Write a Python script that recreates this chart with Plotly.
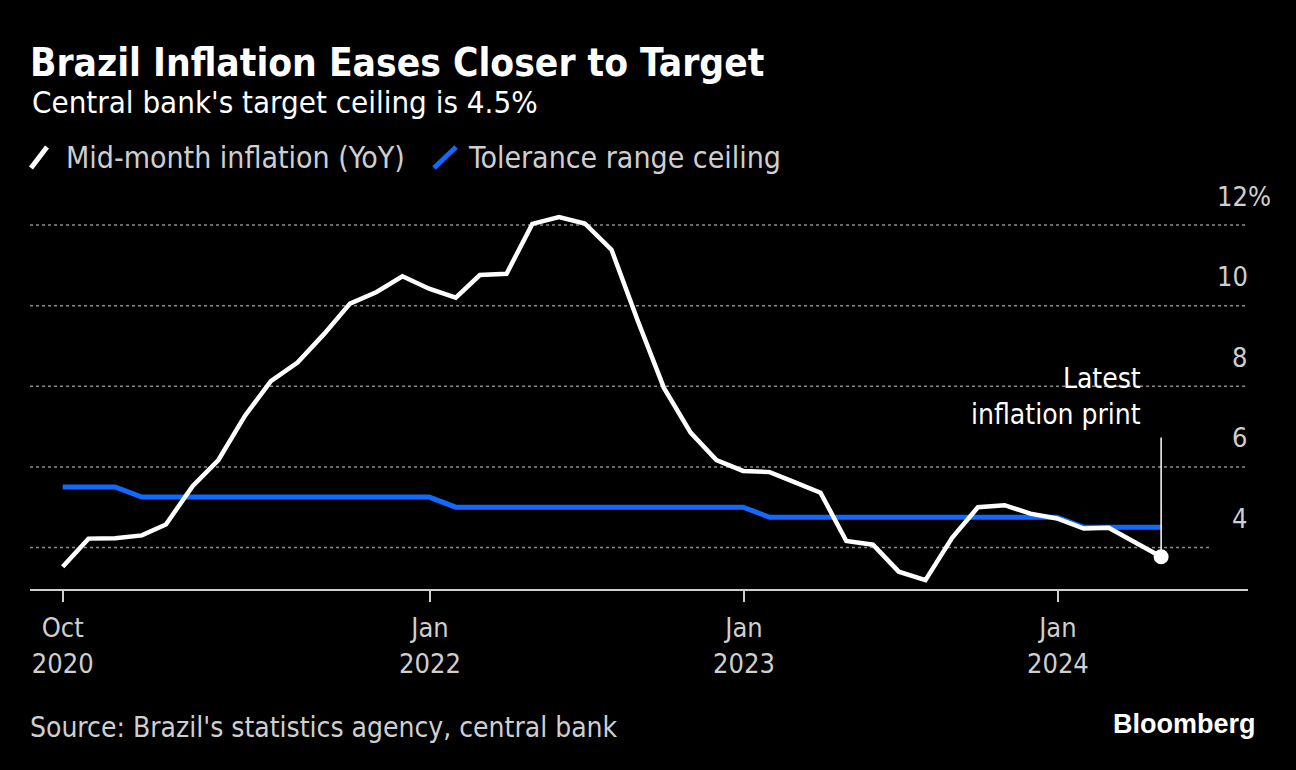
import pandas as pd
import plotly.graph_objects as go

# ---- data ----
months = ["2020-10", "2020-11", "2020-12",
          "2021-01", "2021-02", "2021-03", "2021-04", "2021-05", "2021-06",
          "2021-07", "2021-08", "2021-09", "2021-10", "2021-11", "2021-12",
          "2022-01", "2022-02", "2022-03", "2022-04", "2022-05", "2022-06",
          "2022-07", "2022-08", "2022-09", "2022-10", "2022-11", "2022-12",
          "2023-01", "2023-02", "2023-03", "2023-04", "2023-05", "2023-06",
          "2023-07", "2023-08", "2023-09", "2023-10", "2023-11", "2023-12",
          "2024-01", "2024-02", "2024-03", "2024-04"]
inflation = [3.52, 4.22, 4.23,
             4.30, 4.57, 5.52, 6.17, 7.27, 8.13,
             8.59, 9.30, 10.05, 10.34, 10.73, 10.42,
             10.20, 10.76, 10.79, 12.03, 12.20, 12.04,
             11.39, 9.60, 7.96, 6.85, 6.17, 5.90,
             5.87, 5.63, 5.36, 4.16, 4.07, 3.40,
             3.19, 4.24, 5.00, 5.05, 4.84, 4.72,
             4.47, 4.49, 4.14, 3.77]
ceiling = [5.5, 5.5, 5.5,
           5.25, 5.25, 5.25, 5.25, 5.25, 5.25,
           5.25, 5.25, 5.25, 5.25, 5.25, 5.25,
           5.0, 5.0, 5.0, 5.0, 5.0, 5.0,
           5.0, 5.0, 5.0, 5.0, 5.0, 5.0,
           4.75, 4.75, 4.75, 4.75, 4.75, 4.75,
           4.75, 4.75, 4.75, 4.75, 4.75, 4.75,
           4.5, 4.5, 4.5, 4.5]
x_tick_dates = ["2020-10-31", "2022-01-01", "2023-01-01", "2024-01-01"]
x_tick_text = ["Oct<br>2020", "Jan<br>2022", "Jan<br>2023", "Jan<br>2024"]
y_tick_vals = [4, 6, 8, 10, 12]
y_tick_text = ["4", "6", "8", "10", "12%"]

dates = pd.to_datetime(months) + pd.offsets.MonthEnd(0)

# ---- layout geometry ----
W, H = 1296, 770
L, R, T, B = 30, 48, 190, 181
PW, PH = W - L - R, H - T - B


def px(xp, yp):
    return (xp - L) / PW, (H - B - yp) / PH


FONT = "DejaVu Sans Condensed, Liberation Sans Narrow, sans-serif"
GREY = "#cfcfcf"
BLUE = "#1169ff"

fig = go.Figure()
fig.add_trace(go.Scatter(x=dates, y=ceiling, mode="lines",
                         line=dict(color=BLUE, width=5), name="Tolerance range ceiling",
                         showlegend=False, hoverinfo="skip"))
fig.add_trace(go.Scatter(x=dates, y=inflation, mode="lines",
                         line=dict(color="white", width=4.5), name="Mid-month inflation (YoY)",
                         showlegend=False, hoverinfo="skip"))
fig.add_trace(go.Scatter(x=[dates[-1]], y=[inflation[-1]], mode="markers",
                         marker=dict(color="white", size=15), showlegend=False,
                         hoverinfo="skip"))

shapes = []
# gridlines
for v in y_tick_vals:
    x1 = px(1210, 0)[0] if v == 4 else 1
    shapes.append(dict(type="line", xref="paper", yref="y", x0=0, x1=x1, y0=v, y1=v,
                       line=dict(color="#8a8a8a", width=1.5, dash="3px,3px"), layer="below"))
# annotation pointer line
shapes.append(dict(type="line", xref="x", yref="y", x0=dates[-1], x1=dates[-1],
                   y0=inflation[-1], y1=6.73, line=dict(color="white", width=1.5)))
# legend slashes
for (xa, xb, col) in [(31, 47, "white"), (434, 456, BLUE)]:
    a = px(xa, 168)
    b = px(xb, 147)
    shapes.append(dict(type="line", xref="paper", yref="paper", x0=a[0], y0=a[1],
                       x1=b[0], y1=b[1], line=dict(color=col, width=5)))

annotations = []
for v, t in zip(y_tick_vals, y_tick_text):
    txt = t if t.endswith("%") else t + '<span style="color:rgba(0,0,0,0)">%</span>'
    annotations.append(dict(xref="paper", yref="y", x=px(1273, 0)[0], y=v, text=txt,
                            xanchor="right", yanchor="middle", yshift=29, showarrow=False,
                            font=dict(family=FONT, size=27, color=GREY)))

annotations.append(dict(xref="x", yref="y", x=dates[-1], y=6.73,
                        text="Latest<br>inflation print",
                        xanchor="right", yanchor="bottom", align="right",
                        xshift=-18, yshift=4, showarrow=False,
                        font=dict(family=FONT, size=28, color="white")))

sx, sy = px(30, 102)
annotations.append(dict(xref="paper", yref="paper", x=sx, y=sy, xanchor="left", yanchor="middle",
                        text="Central bank's target ceiling is 4.5%", showarrow=False,
                        font=dict(family=FONT, size=31, color="white")))
for xp_, txt in [(64, "Mid-month inflation (YoY)"), (466, "Tolerance range ceiling")]:
    lx, ly = px(xp_, 157)
    annotations.append(dict(xref="paper", yref="paper", x=lx, y=ly, xanchor="left",
                            yanchor="middle", text=txt, showarrow=False,
                            font=dict(family=FONT, size=30, color=GREY)))
srx, sry = px(28, 727)
annotations.append(dict(xref="paper", yref="paper", x=srx, y=sry, xanchor="left",
                        yanchor="middle", text="Source: Brazil's statistics agency, central bank",
                        showarrow=False, font=dict(family=FONT, size=28, color=GREY)))
bx, by = px(1258, 724)
annotations.append(dict(xref="paper", yref="paper", x=bx, y=by, xanchor="right",
                        yanchor="middle", text="<b>Bloomberg</b>", showarrow=False,
                        font=dict(family="Liberation Sans, Arial, sans-serif", size=27,
                                  color="white")))

fig.update_layout(
    width=W, height=H,
    paper_bgcolor="black", plot_bgcolor="black",
    margin=dict(l=L, r=R, t=T, b=B),
    title=dict(text="<b>Brazil Inflation Eases Closer to Target</b>",
               x=L / W, xanchor="left", xref="container",
               y=1 - 62 / H, yanchor="middle", yref="container",
               font=dict(family=FONT, size=38.6, color="white")),
    xaxis=dict(type="date", range=["2020-09-23", "2024-08-09"],
               tickvals=x_tick_dates, ticktext=x_tick_text,
               showgrid=False, zeroline=False,
               showline=True, linecolor=GREY, linewidth=2,
               ticks="outside", ticklen=11, tickwidth=2, tickcolor=GREY,
               ticklabelstandoff=3,
               tickfont=dict(family=FONT, size=27, color=GREY)),
    yaxis=dict(range=[2.97, 12.87], showgrid=False, zeroline=False,
               showticklabels=False, tickvals=y_tick_vals),
    shapes=shapes, annotations=annotations,
    showlegend=False,
)

fig.write_html("out.html")
